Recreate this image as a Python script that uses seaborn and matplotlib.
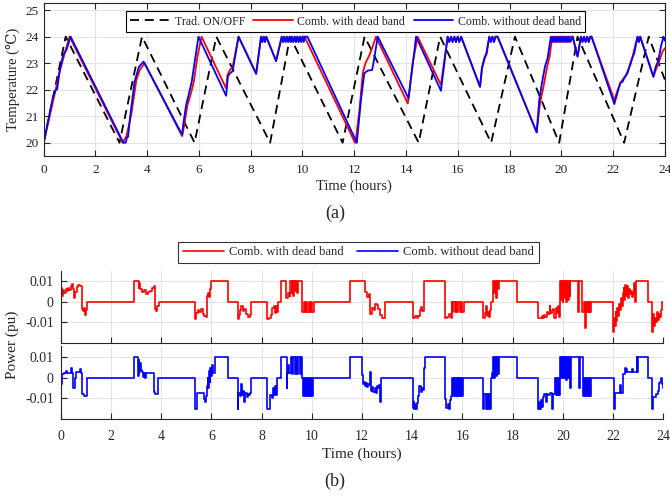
import matplotlib
matplotlib.use("Agg")
import matplotlib.pyplot as plt
import seaborn as sns

# ---------------- temperature traces: (hour, deg C) ----------------
temp_onoff = [
    (0.00, 20.0), (0.85, 24.0), (2.93, 20.0), (3.80, 24.0), (5.83, 20.0),
    (6.67, 24.0), (8.75, 20.0), (9.52, 24.0), (11.55, 20.0), (12.40, 24.0),
    (14.49, 20.0), (15.32, 24.0), (17.29, 20.0), (18.21, 24.0), (19.92, 20.0),
    (20.63, 24.0), (22.43, 20.0), (23.38, 24.0), (24.00, 22.38),
]

temp_db = [
    (0.00, 20.00), (0.43, 21.86), (0.62, 22.68), (0.81, 23.37), (1.00, 24.00),
    (3.05, 20.00), (3.20, 20.25), (3.39, 21.10), (3.58, 22.36), (3.71, 22.74), (3.90, 23.00),
    (5.35, 20.25), (5.42, 20.60), (5.55, 21.40), (5.70, 21.90), (5.80, 22.30), (5.95, 23.30), (6.10, 24.00),
    (7.05, 22.05), (7.10, 22.55), (7.20, 22.75), (7.30, 22.85), (7.53, 24.00),
    (8.21, 22.62), (8.40, 24.00), (8.45, 23.80), (8.50, 24.00), (8.55, 23.80), (8.60, 24.00),
    (8.98, 23.08), (9.20, 24.00), (9.25, 23.80), (9.30, 24.00), (9.35, 23.80), (9.40, 24.00),
    (9.45, 23.80), (9.50, 24.00), (9.55, 23.80), (9.60, 24.00), (9.65, 23.80), (9.70, 24.00),
    (9.75, 23.80), (9.80, 24.00), (9.85, 23.80), (9.90, 24.00), (9.95, 23.80), (10.00, 24.00),
    (10.08, 24.00),
    (12.03, 20.00), (12.05, 20.00), (12.20, 21.23), (12.33, 22.62), (12.43, 22.99), (12.59, 23.31),
    (12.71, 23.62), (12.84, 24.00),
    (14.07, 21.48), (14.26, 23.00), (14.45, 24.00),
    (15.35, 22.18), (15.61, 24.00), (15.67, 23.80), (15.74, 24.00), (15.80, 23.80), (15.87, 24.00),
    (15.93, 23.80), (16.00, 24.00), (16.06, 23.80), (16.13, 24.00),
    (16.86, 22.11), (16.95, 22.85), (17.05, 23.20), (17.12, 23.35), (17.22, 24.00),
    (17.28, 23.80), (17.34, 24.00), (17.40, 23.80), (17.46, 24.00), (17.54, 24.00),
    (19.05, 20.39), (19.18, 21.50), (19.30, 22.05), (19.45, 22.85), (19.55, 23.25), (19.65, 24.00),
    (19.70, 23.80), (19.75, 24.00), (19.80, 23.80), (19.85, 24.00), (19.90, 23.80), (19.95, 24.00),
    (20.00, 23.80), (20.05, 24.00), (20.10, 23.80), (20.15, 24.00), (20.20, 23.80), (20.25, 24.00),
    (20.30, 23.80), (20.35, 24.00), (20.44, 24.00),
    (20.63, 23.25), (20.76, 24.00), (20.82, 23.80), (20.88, 24.00), (20.94, 23.80), (21.00, 24.00),
    (21.06, 23.80), (21.12, 24.00), (21.17, 24.00),
    (22.05, 21.61), (22.18, 21.99), (22.31, 22.30), (22.50, 22.55), (22.69, 22.99), (22.88, 23.75),
    (22.95, 24.00), (23.00, 23.80), (23.05, 24.00),
    (23.56, 22.49), (23.65, 22.74), (23.78, 23.06), (23.91, 23.43), (24.00, 23.56),
]

temp_nodb = [
    (0.00, 20.00), (0.36, 21.74), (0.46, 21.99), (0.52, 22.01), (0.62, 22.74), (0.75, 23.31),
    (0.88, 23.50), (1.04, 24.00),
    (3.08, 20.00), (3.17, 20.00), (3.22, 20.20), (3.26, 20.22), (3.35, 21.05), (3.51, 22.30),
    (3.68, 22.86), (3.86, 23.06),
    (5.35, 20.30), (5.38, 20.60), (5.50, 21.40), (5.62, 21.90), (5.72, 22.30), (5.98, 24.00),
    (7.05, 21.77), (7.12, 22.50), (7.18, 22.60), (7.30, 22.70), (7.53, 24.00),
    (8.21, 22.59), (8.40, 24.00), (8.45, 23.80), (8.50, 24.00), (8.55, 23.80), (8.60, 24.00),
    (8.98, 23.08), (9.20, 24.00), (9.25, 23.80), (9.30, 24.00), (9.35, 23.80), (9.40, 24.00),
    (9.45, 23.80), (9.50, 24.00), (9.55, 23.80), (9.60, 24.00), (9.65, 23.80), (9.70, 24.00),
    (9.75, 23.80), (9.80, 24.00), (9.85, 23.80), (9.90, 24.00), (9.95, 23.80), (10.00, 24.00),
    (10.05, 23.80), (10.10, 24.00), (10.19, 24.00),
    (12.10, 20.00), (12.26, 21.61), (12.39, 22.62), (12.52, 22.72), (12.69, 22.74), (12.74, 22.99),
    (12.91, 24.00),
    (14.10, 21.67), (14.39, 24.00),
    (15.35, 21.96), (15.61, 24.00), (15.67, 23.80), (15.74, 24.00), (15.80, 23.80), (15.87, 24.00),
    (15.93, 23.80), (16.00, 24.00), (16.06, 23.80), (16.13, 24.00),
    (16.86, 22.11), (16.93, 22.80), (17.03, 23.20), (17.10, 23.35), (17.22, 24.00),
    (17.28, 23.80), (17.34, 24.00), (17.40, 23.80), (17.46, 24.00), (17.54, 24.00),
    (19.05, 20.39), (19.15, 21.61), (19.24, 22.18), (19.37, 22.87), (19.47, 23.18), (19.60, 24.00),
    (19.65, 23.80), (19.70, 24.00), (19.75, 23.80), (19.80, 24.00), (19.85, 23.80), (19.90, 24.00),
    (19.95, 23.80), (20.00, 24.00), (20.05, 23.80), (20.10, 24.00), (20.15, 23.80), (20.20, 24.00),
    (20.25, 23.80), (20.30, 24.00), (20.35, 23.80), (20.44, 24.00),
    (20.63, 23.25), (20.76, 24.00), (20.82, 23.80), (20.88, 24.00), (20.94, 23.80), (21.00, 24.00),
    (21.06, 23.80), (21.12, 24.00), (21.17, 24.00),
    (22.05, 21.46), (22.18, 21.92), (22.28, 22.26), (22.37, 22.30), (22.43, 22.43), (22.56, 22.62),
    (22.69, 23.06), (22.82, 23.37), (22.95, 24.00), (23.00, 23.80), (23.05, 24.00),
    (23.56, 22.49), (23.65, 22.87), (23.74, 23.06), (23.85, 23.62), (23.95, 24.00), (24.00, 23.85),
]

# ---------------- power traces: (hour, pu), held until next entry ----------------
power_db = [
    (0.00, 0.0065), (0.05, 0.0030), (0.10, 0.0055), (0.15, 0.0040), (0.20, 0.0060), (0.25, 0.0050),
    (0.30, 0.0065), (0.35, 0.0055), (0.40, 0.0075), (0.45, 0.0085), (0.50, 0.0060), (0.53, 0.0020),
    (0.58, 0.0045), (0.63, 0.0070), (0.68, 0.0082), (0.75, 0.0075), (0.86, -0.0035), (0.90, -0.0045),
    (0.93, -0.0030), (0.96, -0.0065), (1.00, -0.0040), (1.03, 0.0),
    (2.93, 0.0100), (3.10, 0.0065), (3.13, 0.0090), (3.17, 0.0060), (3.22, 0.0045), (3.30, 0.0055),
    (3.38, 0.0035), (3.47, 0.0045), (3.55, 0.0050), (3.62, 0.0065), (3.70, 0.0075), (3.76, -0.0035),
    (3.80, -0.0045), (3.85, -0.0020), (3.90, 0.0),
    (5.35, -0.0085), (5.40, -0.0055), (5.45, -0.0040), (5.52, -0.0050), (5.58, -0.0035),
    (5.65, -0.0060), (5.72, -0.0070), (5.78, -0.0075), (5.82, 0.0030), (5.86, 0.0040),
    (5.92, 0.0025), (5.95, 0.0060), (6.00, 0.0100), (6.68, 0.0),
    (7.05, -0.0085), (7.10, -0.0065), (7.15, -0.0040), (7.20, -0.0020), (7.25, -0.0045),
    (7.32, -0.0035), (7.38, -0.0060), (7.45, -0.0075), (7.52, -0.0065), (7.57, 0.0),
    (8.22, -0.0085), (8.30, -0.0080), (8.38, -0.0065), (8.43, -0.0030), (8.48, -0.0020),
    (8.52, -0.0055), (8.56, -0.0020), (8.60, -0.0050), (8.64, 0.0),
    (8.77, 0.0100), (8.99, 0.0020), (9.05, 0.0040), (9.12, 0.0030), (9.15, 0.0100), (9.20, 0.0040),
    (9.23, 0.0100), (9.27, 0.0030), (9.30, 0.0100), (9.34, 0.0050), (9.37, 0.0100), (9.42, 0.0040),
    (9.45, 0.0100), (9.62, -0.0050), (9.68, 0.0), (9.72, -0.0050), (9.78, 0.0), (9.82, -0.0050),
    (9.88, 0.0), (9.92, -0.0050), (9.98, 0.0), (10.02, -0.0050), (10.10, 0.0),
    (11.52, 0.0100), (12.12, 0.0045), (12.20, 0.0025), (12.27, 0.0035), (12.33, -0.0058),
    (12.40, -0.0030), (12.47, -0.0040), (12.52, -0.0010), (12.60, -0.0015), (12.65, -0.0035),
    (12.71, -0.0065), (12.78, -0.0078), (12.92, 0.0),
    (14.04, -0.0078), (14.12, -0.0072), (14.18, -0.0078), (14.25, -0.0068), (14.31, -0.0040),
    (14.36, -0.0025), (14.40, -0.0045), (14.45, -0.0010), (14.48, 0.0100),
    (15.30, -0.0078), (15.40, -0.0075), (15.48, -0.0060), (15.53, -0.0078), (15.58, 0.0),
    (15.60, -0.0050), (15.64, 0.0), (15.70, -0.0050), (15.74, 0.0), (15.80, -0.0050), (15.84, 0.0),
    (15.90, -0.0050), (15.94, 0.0), (16.00, -0.0050), (16.06, 0.0),
    (16.83, -0.0080), (16.88, -0.0055), (16.92, -0.0020), (16.96, -0.0070), (17.02, -0.0050),
    (17.06, -0.0075), (17.10, -0.0040), (17.13, 0.0), (17.20, 0.0035), (17.23, 0.0100),
    (17.27, 0.0040), (17.30, 0.0100), (17.34, 0.0020), (17.37, 0.0100), (17.41, 0.0060),
    (17.44, 0.0100), (18.17, 0.0),
    (19.02, -0.0082), (19.08, -0.0078), (19.15, -0.0070), (19.20, -0.0080), (19.25, -0.0065),
    (19.30, -0.0075), (19.35, -0.0050), (19.42, -0.0060), (19.47, -0.0020), (19.50, -0.0055),
    (19.55, -0.0040), (19.60, -0.0035), (19.66, -0.0080), (19.72, -0.0030), (19.76, -0.0055),
    (19.81, -0.0020), (19.85, -0.0075), (19.88, 0.0100), (19.92, 0.0010), (19.95, 0.0100),
    (19.99, 0.0), (20.02, 0.0100), (20.06, 0.0020), (20.09, 0.0100), (20.13, 0.0), (20.16, 0.0100),
    (20.20, 0.0010), (20.23, 0.0100), (20.27, 0.0030), (20.30, 0.0100),
    (20.61, -0.0050), (20.65, 0.0100), (20.78, -0.0050), (20.84, 0.0), (20.87, -0.0130),
    (20.92, 0.0), (20.95, -0.0050), (20.99, 0.0), (21.03, -0.0050), (21.07, 0.0), (21.10, -0.0050),
    (21.14, 0.0),
    (22.00, -0.0150), (22.04, -0.0080), (22.07, -0.0120), (22.10, -0.0050), (22.13, -0.0095),
    (22.16, -0.0030), (22.20, -0.0070), (22.24, -0.0010), (22.28, -0.0040), (22.31, 0.0020),
    (22.35, -0.0020), (22.38, 0.0040), (22.42, 0.0065), (22.45, 0.0010), (22.48, 0.0080),
    (22.52, 0.0030), (22.55, 0.0075), (22.58, 0.0020), (22.62, 0.0060), (22.66, 0.0035),
    (22.70, 0.0050), (22.74, 0.0025), (22.78, 0.0040), (22.83, 0.0090), (22.86, 0.0),
    (22.90, 0.0100), (23.40, 0.0),
    (23.55, -0.0150), (23.58, -0.0060), (23.62, -0.0120), (23.66, -0.0080), (23.70, -0.0100),
    (23.74, -0.0050), (23.78, -0.0090), (23.82, -0.0060), (23.86, -0.0075), (23.90, -0.0040),
    (23.96, 0.0), (24.00, 0.0),
]

power_nodb = [
    (0.00, 0.0028), (0.03, -0.0030), (0.06, 0.0020), (0.12, 0.0025), (0.22, 0.0035), (0.26, 0.0025),
    (0.42, 0.0050), (0.46, 0.0025), (0.50, -0.0050), (0.57, 0.0), (0.60, 0.0028), (0.78, 0.0045),
    (0.82, 0.0025), (0.86, -0.0078), (0.92, -0.0090), (1.03, 0.0),
    (2.92, 0.0100), (3.09, 0.0010), (3.11, 0.0085), (3.13, 0.0030), (3.15, 0.0070), (3.18, 0.0040),
    (3.22, 0.0030), (3.27, 0.0005), (3.30, 0.0025), (3.37, 0.0), (3.40, 0.0025), (3.72, -0.0070),
    (3.76, -0.0078), (3.87, 0.0),
    (5.34, -0.0150), (5.43, -0.0075), (5.72, -0.0105), (5.76, -0.0120), (5.80, -0.0090),
    (5.83, -0.0040), (5.85, 0.0), (5.87, -0.0050), (5.89, -0.0010), (5.91, 0.0035), (5.94, -0.0020),
    (5.96, 0.0050), (5.99, 0.0010), (6.02, 0.0060), (6.05, 0.0025), (6.13, 0.0100), (6.68, 0.0),
    (7.05, -0.0150), (7.08, -0.0075), (7.13, -0.0090), (7.17, -0.0075), (7.20, -0.0030),
    (7.23, -0.0085), (7.28, -0.0065), (7.32, -0.0120), (7.35, -0.0075), (7.40, -0.0095),
    (7.45, -0.0080), (7.50, -0.0085), (7.53, -0.0075), (7.57, 0.0),
    (8.21, -0.0150), (8.33, -0.0085), (8.40, -0.0100), (8.46, -0.0050), (8.50, -0.0085),
    (8.53, -0.0040), (8.56, -0.0085), (8.60, 0.0),
    (8.77, 0.0100), (9.00, -0.0050), (9.02, 0.0022), (9.06, 0.0060), (9.08, 0.0022), (9.18, 0.0100),
    (9.23, 0.0020), (9.27, 0.0100), (9.32, 0.0020), (9.36, 0.0100), (9.42, 0.0020), (9.46, 0.0100),
    (9.52, 0.0020), (9.56, 0.0100), (9.62, 0.0), (9.66, -0.0090), (9.70, 0.0), (9.73, -0.0090),
    (9.77, 0.0), (9.80, -0.0090), (9.84, 0.0), (9.87, -0.0090), (9.91, 0.0), (9.94, -0.0090),
    (9.98, 0.0), (10.01, -0.0090), (10.06, 0.0),
    (11.52, 0.0100), (12.01, 0.0015), (12.04, -0.0030), (12.08, -0.0020), (12.12, -0.0040),
    (12.16, -0.0025), (12.20, -0.0045), (12.25, -0.0030), (12.30, -0.0035), (12.33, 0.0028),
    (12.36, -0.0065), (12.41, -0.0045), (12.45, -0.0070), (12.50, -0.0050), (12.55, -0.0075),
    (12.58, -0.0040), (12.63, -0.0050), (12.67, -0.0035), (12.71, -0.0060), (12.73, -0.0120),
    (12.76, 0.0),
    (14.02, -0.0145), (14.06, -0.0120), (14.09, -0.0150), (14.13, -0.0130), (14.17, -0.0150),
    (14.21, -0.0125), (14.25, -0.0090), (14.29, -0.0040), (14.33, -0.0070), (14.37, -0.0050),
    (14.42, -0.0060), (14.46, 0.0050), (14.51, 0.0100),
    (15.30, -0.0105), (15.35, -0.0145), (15.42, -0.0130), (15.46, -0.0150), (15.52, -0.0110),
    (15.56, -0.0090), (15.60, 0.0), (15.63, -0.0090), (15.67, 0.0), (15.70, -0.0090), (15.74, 0.0),
    (15.77, -0.0090), (15.81, 0.0), (15.84, -0.0090), (15.88, 0.0), (15.91, -0.0090), (15.95, 0.0),
    (15.98, -0.0090), (16.03, 0.0),
    (16.83, -0.0150), (16.87, -0.0078), (16.92, -0.0150), (16.96, -0.0078), (17.02, -0.0150),
    (17.06, -0.0080), (17.10, -0.0150), (17.13, 0.0), (17.16, 0.0025), (17.20, 0.0),
    (17.23, 0.0100), (17.27, 0.0), (17.30, 0.0100), (17.34, 0.0010), (17.37, 0.0100),
    (17.41, 0.0020), (17.44, 0.0100), (18.17, 0.0),
    (19.00, -0.0150), (19.04, -0.0120), (19.07, -0.0150), (19.11, -0.0110), (19.15, -0.0140),
    (19.19, -0.0095), (19.26, -0.0078), (19.33, -0.0120), (19.36, -0.0078), (19.42, -0.0085),
    (19.48, -0.0075), (19.56, -0.0150), (19.60, -0.0078), (19.69, 0.0), (19.72, -0.0085),
    (19.76, 0.0), (19.79, -0.0085), (19.83, 0.0), (19.86, -0.0085), (19.89, 0.0100),
    (19.93, 0.0), (19.96, 0.0100), (20.00, 0.0), (20.03, 0.0100), (20.07, 0.0), (20.10, 0.0100),
    (20.14, -0.0010), (20.17, 0.0100), (20.21, 0.0), (20.24, 0.0100), (20.28, -0.0050),
    (20.31, 0.0100), (20.64, -0.0050), (20.68, 0.0100), (20.79, 0.0), (20.82, -0.0090),
    (20.86, 0.0), (20.89, -0.0090), (20.93, 0.0), (20.96, -0.0090), (21.00, 0.0), (21.03, -0.0090),
    (21.07, 0.0), (21.10, -0.0090), (21.14, 0.0),
    (22.03, -0.0150), (22.08, -0.0075), (22.29, -0.0035), (22.32, -0.0075), (22.41, 0.0020),
    (22.47, 0.0050), (22.50, 0.0030), (22.53, 0.0045), (22.56, 0.0030), (22.76, 0.0045),
    (22.79, 0.0028), (22.94, 0.0100), (22.96, 0.0030), (22.99, 0.0100), (23.40, 0.0),
    (23.54, -0.0150), (23.59, -0.0094), (23.70, -0.0078), (23.77, -0.0065), (23.83, -0.0025),
    (23.88, -0.0020), (23.92, 0.0), (23.95, -0.0030), (23.98, -0.0050), (24.00, -0.0050),
]

hour_ticks = list(range(0, 25, 2))
temp_ticks = [20, 21, 22, 23, 24, 25]
power_ticks = [-0.01, 0, 0.01]
power_ticklabels = ["-0.01", "0", "0.01"]

labels = ["Trad. ON/OFF", "Comb. with dead band", "Comb. without dead band"]
colors = ["black", "#ff0000", "#0000ff"]

# ---------------- style ----------------
sns.set_theme(style="whitegrid")
plt.rcParams["font.family"] = ["Liberation Serif", "DejaVu Serif", "DejaVu Sans"]
plt.rcParams["axes.unicode_minus"] = False

grid_c = "#e3e3e3"
spine_c = "#262626"


def style_axes(ax, box, labelsize, xpad, ypad):
    ax.set_facecolor("white")
    ax.grid(True, color=grid_c, linewidth=0.8)
    for side, sp in ax.spines.items():
        sp.set_color(spine_c)
        sp.set_linewidth(0.8)
        if not box and side in ("top", "right"):
            sp.set_visible(False)
    ax.tick_params(direction="in", length=4, width=0.8, colors=spine_c,
                   labelcolor="#262626", labelsize=labelsize,
                   top=box, right=box, bottom=True, left=True)
    ax.tick_params(axis="x", pad=xpad)
    ax.tick_params(axis="y", pad=ypad)
    ax.set_xlim(0, 24)
    ax.set_xticks(hour_ticks)


fig = plt.figure(figsize=(6.7, 4.96), dpi=100)

# ---------------- (a) temperature ----------------
ax_t = fig.add_axes([0.0652, 0.6855, 0.927, 0.3085])
style_axes(ax_t, box=True, labelsize=9.5, xpad=6, ypad=3.5)
for series, lab, col in zip([temp_onoff, temp_db, temp_nodb], labels, colors):
    xs = [p[0] for p in series]
    ys = [p[1] for p in series]
    kw = dict(linestyle=(0, (5, 3.2))) if lab == labels[0] else {}
    sns.lineplot(x=xs, y=ys, ax=ax_t, color=col, linewidth=1.3, label=lab,
                 estimator=None, sort=False, **kw)
ax_t.set_ylim(19.5, 25.27)
ax_t.set_yticks(temp_ticks)
ax_t.set_xlabel("Time (hours)", fontsize=10.5, labelpad=2)
ax_t.set_ylabel("Temperature (\u2103)", fontsize=10.5, labelpad=4)
leg = ax_t.legend(loc="upper center", bbox_to_anchor=(0.531, 0.977),
                  bbox_transform=fig.transFigure, ncol=3, fontsize=8.6,
                  frameon=True, fancybox=False, edgecolor="black",
                  handlelength=3.3, handletextpad=0.4, columnspacing=0.7,
                  borderpad=0.35, borderaxespad=0)
leg.get_frame().set_linewidth(0.8)
leg.get_frame().set_alpha(1)
fig.text(0.5, 1 - 213 / 496, "(a)", ha="center", va="center", fontsize=13)

# ---------------- (b) power ----------------
ax_r = fig.add_axes([0.0906, 0.3085, 0.8994, 0.1452])
ax_b = fig.add_axes([0.0906, 0.1552, 0.8994, 0.1472])
handles = []
for ax, series, lab, col in [(ax_r, power_db, labels[1], colors[1]),
                             (ax_b, power_nodb, labels[2], colors[2])]:
    style_axes(ax, box=False, labelsize=10, xpad=8, ypad=5)
    xs = [p[0] for p in series]
    ys = [p[1] for p in series]
    sns.lineplot(x=xs, y=ys, ax=ax, color=col, linewidth=1.2, label=lab,
                 estimator=None, sort=False, drawstyle="steps-post")
    ax.set_yticks(power_ticks)
    ax.set_yticklabels(power_ticklabels)
    ax.set_ylim(-0.0202, 0.0150)
    ax.set_ylabel("")
    h, _ = ax.get_legend_handles_labels()
    handles += h
    ax.get_legend().remove()
ax_b.set_ylim(-0.0201, 0.0155)
ax_r.tick_params(labelbottom=False)
ax_r.set_xlabel("")
ax_b.set_xlabel("Time (hours)", fontsize=11, labelpad=3)
fig.text(12 / 670, 1 - 345 / 496, "Power (pu)", rotation=90, ha="center",
         va="center", fontsize=11)
leg2 = fig.legend(handles, labels[1:], loc="upper center",
                  bbox_to_anchor=(0.535, 1 - 242 / 496), ncol=2, fontsize=9.1,
                  frameon=True, fancybox=False, edgecolor="black",
                  handlelength=3.3, handletextpad=0.4, columnspacing=1.0,
                  borderpad=0.35, borderaxespad=0)
leg2.get_frame().set_linewidth(0.8)
fig.text(0.5, 1 - 481 / 496, "(b)", ha="center", va="center", fontsize=13)

fig.savefig("out.png", dpi=100, facecolor="white")
